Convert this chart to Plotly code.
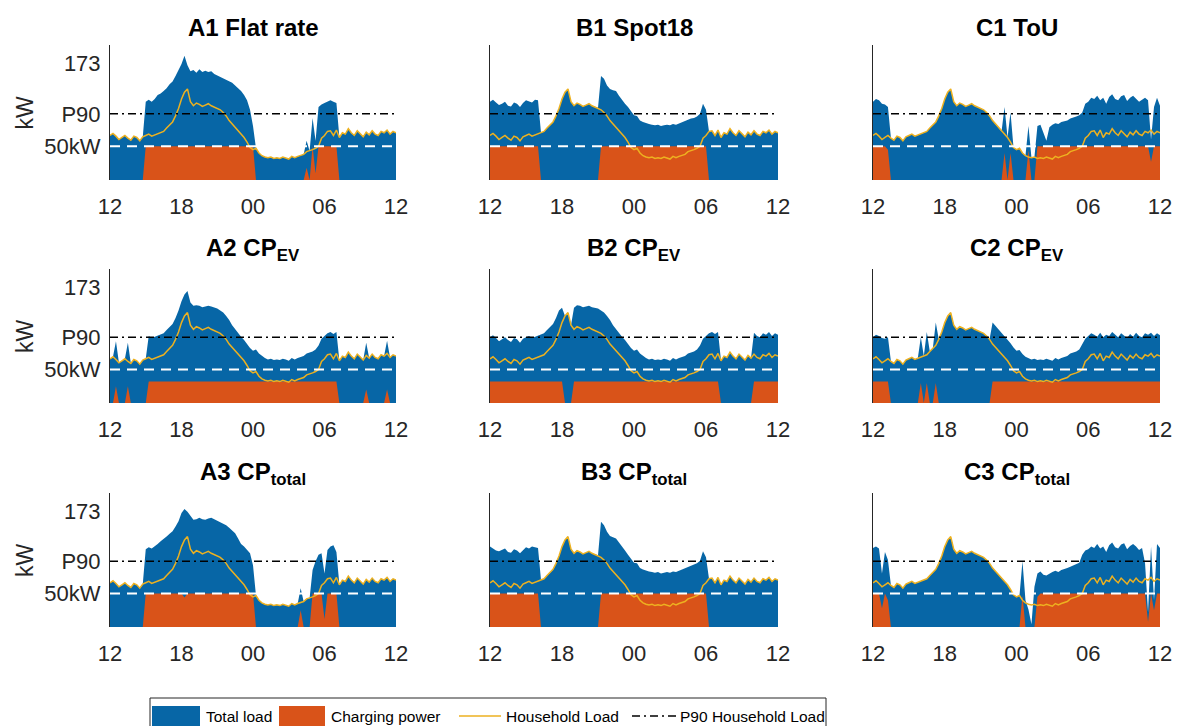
import plotly.graph_objects as go

# ---- time axis: 15-minute samples from 12:00 to 12:00 next day ----
STEP_H = 0.25
N_SAMPLES = 97
HOURS = [i * STEP_H for i in range(N_SAMPLES)]

TICK_HOURS = [0, 6, 12, 18, 24]
TICK_LABELS = ["12", "18", "00", "06", "12"]
Y_TICKS = [50, 98, 173]
Y_TICK_LABELS = ["50kW", "P90", "173"]
P90_KW = 98
LIMIT_KW = 50

# ---- household load (kW), shared by all scenarios ----
household = [
    66, 69, 65, 60, 63, 66, 62, 59, 65, 63, 58, 64,
    66, 68, 65, 67, 68, 70, 72, 77, 81, 86, 95, 106,
    120, 130, 135, 116, 110, 114, 112, 109, 111, 113, 110, 108,
    107, 104, 100, 95, 88, 83, 78, 72, 68, 63, 56, 48,
    45, 47, 40, 36, 34, 33, 34, 32, 33, 32, 34, 33,
    31, 35, 33, 35, 37, 38, 42, 43, 45, 47, 50, 62,
    66, 72, 73, 66, 74, 63, 70, 68, 76, 70, 66, 73,
    69, 64, 71, 67, 73, 68, 66, 72, 70, 74, 68, 72,
    70,
]

# ---- A: flat rate ----
charging_a1 = [
    0, 0, 0, 0, 0, 0, 0, 0, 0, 0, 0, 0,
    50, 50, 50, 50, 50, 50, 50, 50, 50, 50, 50, 50,
    50, 50, 50, 50, 50, 50, 50, 50, 50, 50, 50, 50,
    50, 50, 50, 50, 50, 50, 50, 50, 50, 50, 50, 50,
    50, 0, 0, 0, 0, 0, 0, 0, 0, 0, 0, 0,
    0, 0, 0, 0, 0, 0, 18, 0, 50, 10, 50, 50,
    50, 50, 50, 50, 50, 0, 0, 0, 0, 0, 0, 0,
    0, 0, 0, 0, 0, 0, 0, 0, 0, 0, 0, 0,
    0,
]
total_a1 = [
    66, 69, 65, 60, 63, 66, 62, 59, 65, 63, 58, 64,
    116, 119, 116, 120, 126, 128, 132, 136, 142, 146, 154, 162,
    172, 184, 170, 161, 163, 159, 164, 160, 162, 160, 161, 157,
    155, 152, 150, 149, 147, 144, 140, 136, 132, 126, 118, 104,
    80, 47, 40, 36, 34, 33, 34, 32, 33, 32, 34, 33,
    31, 35, 33, 35, 37, 38, 58, 43, 92, 58, 108, 112,
    114, 116, 118, 116, 114, 63, 70, 68, 76, 70, 66, 73,
    69, 64, 71, 67, 73, 68, 66, 72, 70, 74, 68, 72,
    70,
]
charging_a2 = [
    0, 0, 25, 0, 0, 0, 25, 0, 0, 0, 0, 0,
    0, 32, 32, 32, 32, 32, 32, 32, 32, 32, 32, 32,
    32, 32, 32, 32, 32, 32, 32, 32, 32, 32, 32, 32,
    32, 32, 32, 32, 32, 32, 32, 32, 32, 32, 32, 32,
    32, 32, 32, 32, 32, 32, 32, 32, 32, 32, 32, 32,
    32, 32, 32, 32, 32, 32, 32, 32, 32, 32, 32, 32,
    32, 32, 32, 32, 32, 0, 0, 0, 0, 0, 0, 0,
    0, 0, 20, 0, 0, 0, 0, 0, 0, 20, 0, 0,
    0,
]
total_a2 = [
    66, 69, 92, 60, 63, 66, 90, 59, 65, 63, 58, 64,
    66, 100, 97, 99, 100, 102, 104, 109, 113, 118, 127, 138,
    152, 162, 167, 150, 145, 146, 145, 143, 144, 145, 144, 143,
    141, 138, 135, 130, 124, 116, 110, 104, 99, 94, 88, 82,
    78, 80, 74, 70, 67, 65, 66, 64, 65, 64, 66, 65,
    63, 67, 65, 67, 69, 70, 74, 75, 77, 80, 86, 96,
    100, 104, 106, 103, 106, 63, 70, 68, 76, 70, 66, 73,
    69, 64, 90, 67, 73, 68, 66, 72, 70, 93, 68, 72,
    70,
]
charging_a3 = [
    0, 0, 0, 0, 0, 0, 0, 0, 0, 0, 0, 0,
    50, 50, 50, 50, 50, 50, 50, 50, 50, 50, 50, 50,
    50, 44, 50, 50, 50, 50, 50, 50, 50, 50, 50, 50,
    50, 50, 50, 50, 50, 50, 50, 50, 50, 50, 50, 50,
    50, 0, 0, 0, 0, 0, 0, 0, 0, 0, 0, 0,
    0, 0, 0, 0, 25, 0, 0, 0, 50, 50, 50, 50,
    12, 50, 50, 50, 50, 0, 0, 0, 0, 0, 0, 0,
    0, 0, 0, 0, 0, 0, 0, 0, 0, 0, 0, 0,
    0,
]
total_a3 = [
    66, 69, 65, 60, 63, 66, 62, 59, 65, 63, 58, 64,
    116, 119, 117, 120, 124, 128, 131, 135, 139, 143, 150, 158,
    170, 176, 172, 166, 160, 161, 163, 161, 160, 162, 163, 161,
    159, 157, 155, 152, 148, 144, 140, 132, 124, 120, 115, 110,
    92, 47, 40, 36, 34, 33, 34, 32, 33, 32, 34, 33,
    31, 35, 33, 35, 58, 38, 42, 43, 85, 98, 108, 110,
    80, 115, 120, 122, 112, 63, 70, 68, 76, 70, 66, 73,
    69, 64, 71, 67, 73, 68, 66, 72, 70, 74, 68, 72,
    70,
]

# ---- B: Spot18 ----
charging_b1 = [
    50, 50, 50, 50, 50, 50, 50, 50, 50, 50, 50, 50,
    50, 50, 50, 50, 50, 0, 0, 0, 0, 0, 0, 0,
    0, 0, 0, 0, 0, 0, 0, 0, 0, 0, 0, 0,
    0, 50, 50, 50, 50, 50, 50, 50, 50, 50, 50, 50,
    50, 50, 50, 50, 50, 50, 50, 50, 50, 50, 50, 50,
    50, 50, 50, 50, 50, 50, 50, 50, 50, 50, 50, 50,
    50, 0, 0, 0, 0, 0, 0, 0, 0, 0, 0, 0,
    0, 0, 0, 0, 0, 0, 0, 0, 0, 0, 0, 0,
    0,
]
total_b1 = [
    116, 119, 115, 111, 113, 116, 110, 109, 115, 113, 108, 114,
    118, 116, 115, 119, 118, 70, 72, 77, 81, 86, 95, 106,
    120, 130, 135, 116, 110, 114, 112, 109, 111, 113, 110, 108,
    107, 154, 150, 140, 135, 133, 132, 125, 118, 113, 108, 101,
    96, 95, 88, 86, 84, 83, 82, 81, 82, 80, 81, 82,
    81, 83, 82, 84, 86, 87, 89, 91, 92, 94, 98, 113,
    104, 72, 73, 66, 74, 63, 70, 68, 76, 70, 66, 73,
    69, 64, 71, 67, 73, 68, 66, 72, 70, 74, 68, 72,
    70,
]
charging_b2 = [
    32, 32, 32, 32, 32, 32, 32, 32, 32, 32, 32, 32,
    32, 32, 32, 32, 32, 32, 32, 32, 32, 32, 32, 32,
    32, 0, 0, 0, 32, 32, 32, 32, 32, 32, 32, 32,
    32, 32, 32, 32, 32, 32, 32, 32, 32, 32, 32, 32,
    32, 32, 32, 32, 32, 32, 32, 32, 32, 32, 32, 32,
    32, 32, 32, 32, 32, 32, 32, 32, 32, 32, 32, 32,
    32, 32, 32, 32, 32, 0, 0, 0, 0, 0, 0, 0,
    0, 0, 0, 0, 32, 32, 32, 32, 32, 32, 32, 32,
    32,
]
total_b2 = [
    98, 101, 97, 92, 95, 98, 94, 91, 97, 95, 90, 96,
    98, 100, 97, 99, 100, 102, 104, 109, 113, 118, 127, 138,
    142, 130, 135, 116, 142, 146, 145, 143, 144, 145, 143, 142,
    141, 138, 135, 130, 124, 116, 110, 104, 99, 94, 88, 82,
    78, 80, 74, 70, 67, 65, 66, 64, 65, 64, 66, 65,
    63, 67, 65, 67, 69, 70, 74, 75, 77, 80, 86, 96,
    100, 104, 106, 103, 106, 63, 70, 68, 76, 70, 66, 73,
    69, 64, 71, 67, 105, 100, 98, 104, 102, 106, 100, 104,
    102,
]
charging_b3 = [
    50, 50, 50, 50, 50, 50, 50, 50, 50, 50, 50, 50,
    50, 50, 50, 50, 50, 0, 0, 0, 0, 0, 0, 0,
    0, 0, 0, 0, 0, 0, 0, 0, 0, 0, 0, 0,
    0, 50, 50, 50, 50, 50, 50, 50, 50, 50, 50, 50,
    50, 50, 50, 50, 50, 50, 50, 50, 50, 50, 50, 50,
    50, 50, 50, 50, 50, 50, 50, 50, 50, 50, 50, 50,
    50, 0, 0, 0, 0, 0, 0, 0, 0, 0, 0, 0,
    0, 0, 0, 0, 0, 0, 0, 0, 0, 0, 0, 0,
    0,
]
total_b3 = [
    120, 117, 114, 113, 115, 117, 112, 111, 116, 114, 110, 115,
    119, 117, 120, 119, 118, 70, 72, 77, 81, 86, 95, 106,
    120, 130, 135, 116, 110, 114, 112, 109, 111, 113, 110, 108,
    107, 157, 152, 142, 136, 134, 132, 126, 119, 114, 108, 101,
    96, 95, 88, 86, 84, 83, 82, 81, 82, 80, 81, 82,
    81, 83, 82, 84, 86, 87, 89, 91, 93, 95, 99, 113,
    104, 72, 73, 66, 74, 63, 70, 68, 76, 70, 66, 73,
    69, 64, 71, 67, 73, 68, 66, 72, 70, 74, 68, 72,
    70,
]

# ---- C: time of use ----
charging_c1 = [
    50, 50, 50, 50, 50, 45, 0, 0, 0, 0, 0, 0,
    0, 0, 0, 0, 0, 0, 0, 0, 0, 0, 0, 0,
    0, 0, 0, 0, 0, 0, 0, 0, 0, 0, 0, 0,
    0, 0, 0, 0, 0, 0, 0, 0, 40, 0, 40, 0,
    0, 0, 0, 0, 44, 0, 0, 50, 50, 50, 50, 50,
    50, 50, 50, 50, 50, 50, 50, 50, 50, 50, 50, 50,
    50, 50, 50, 50, 50, 50, 50, 50, 50, 50, 50, 50,
    50, 50, 50, 50, 50, 50, 50, 50, 50, 27, 50, 50,
    50,
]
total_c1 = [
    116, 120, 118, 113, 112, 108, 62, 59, 65, 63, 58, 64,
    66, 68, 65, 67, 68, 70, 72, 77, 81, 86, 95, 106,
    120, 130, 135, 116, 110, 114, 112, 109, 111, 113, 110, 108,
    107, 104, 100, 95, 88, 83, 78, 72, 108, 63, 100, 48,
    45, 47, 40, 36, 80, 33, 34, 80, 82, 70, 58, 78,
    82, 84, 83, 86, 87, 88, 91, 92, 94, 96, 100, 113,
    116, 122, 120, 125, 118, 122, 113, 123, 127, 120, 118, 124,
    126, 117, 122, 125, 121, 116, 119, 122, 118, 60, 108, 122,
    110,
]
charging_c2 = [
    32, 32, 32, 32, 32, 32, 0, 0, 0, 0, 0, 0,
    0, 0, 0, 0, 30, 0, 30, 0, 0, 30, 0, 0,
    0, 0, 0, 0, 0, 0, 0, 0, 0, 0, 0, 0,
    0, 0, 0, 0, 32, 32, 32, 32, 32, 32, 32, 32,
    32, 32, 32, 32, 32, 32, 32, 32, 32, 32, 32, 32,
    32, 32, 32, 32, 32, 32, 32, 32, 32, 32, 32, 32,
    32, 32, 32, 32, 32, 32, 32, 32, 32, 32, 32, 32,
    32, 32, 32, 32, 32, 32, 32, 32, 32, 32, 32, 32,
    32,
]
total_c2 = [
    98, 102, 100, 97, 96, 98, 62, 59, 65, 63, 58, 64,
    66, 68, 65, 67, 98, 70, 106, 77, 81, 120, 95, 106,
    120, 130, 135, 116, 110, 114, 112, 109, 111, 113, 110, 108,
    107, 104, 100, 95, 120, 115, 110, 104, 100, 95, 89, 83,
    78, 79, 73, 69, 67, 65, 66, 64, 65, 64, 66, 65,
    63, 67, 65, 67, 69, 70, 74, 75, 77, 80, 88, 96,
    100, 104, 102, 99, 105, 98, 102, 100, 106, 102, 98, 104,
    101, 97, 103, 99, 105, 100, 98, 104, 102, 105, 100, 104,
    101,
]
charging_c3 = [
    50, 50, 50, 28, 50, 40, 0, 0, 0, 0, 0, 0,
    0, 0, 0, 0, 0, 0, 0, 0, 0, 0, 0, 0,
    0, 0, 0, 0, 0, 0, 0, 0, 0, 0, 0, 0,
    0, 0, 0, 0, 0, 0, 0, 0, 0, 0, 0, 0,
    0, 0, 47, 0, 0, 0, 0, 45, 50, 50, 50, 50,
    50, 50, 50, 50, 50, 50, 50, 50, 50, 50, 50, 50,
    50, 50, 50, 50, 50, 50, 50, 50, 50, 50, 50, 50,
    50, 50, 50, 50, 50, 50, 50, 50, 8, 50, 25, 50,
    50,
]
total_c3 = [
    118, 120, 117, 80, 112, 100, 62, 59, 65, 63, 58, 64,
    66, 68, 65, 67, 68, 70, 72, 77, 81, 86, 95, 106,
    120, 130, 135, 116, 110, 114, 112, 109, 111, 113, 110, 108,
    107, 104, 100, 95, 88, 83, 78, 72, 68, 63, 56, 48,
    45, 47, 98, 40, 26, 4, 60, 80, 83, 78, 77, 80,
    82, 84, 82, 85, 86, 88, 90, 92, 94, 96, 108, 114,
    116, 120, 118, 124, 117, 120, 112, 122, 126, 119, 117, 123,
    125, 116, 121, 124, 120, 115, 118, 95, 22, 120, 40, 124,
    118,
]

# panels in reading order (row by row)
PANELS = [
    ("A1 Flat rate", total_a1, charging_a1),
    ("B1 Spot18", total_b1, charging_b1),
    ("C1 ToU", total_c1, charging_c1),
    ("A2 CP<sub>EV</sub>", total_a2, charging_a2),
    ("B2 CP<sub>EV</sub>", total_b2, charging_b2),
    ("C2 CP<sub>EV</sub>", total_c2, charging_c2),
    ("A3 CP<sub>total</sub>", total_a3, charging_a3),
    ("B3 CP<sub>total</sub>", total_b3, charging_b3),
    ("C3 CP<sub>total</sub>", total_c3, charging_c3),
]

LEGEND_LABELS = ["Total load", "Charging power", "Household Load", "P90 Household Load"]

# ---- styling ----
W, H = 1185, 726
BLUE = "#0766A6"
ORANGE = "#D95319"
YELLOW = "#EDB120"
AXIS_GRAY = "#262626"
FONT = "Liberation Sans, Arial, sans-serif"
P90_DASH = "8px,4px,2px,4px"

COL_PX = [(110, 396), (490, 778), (873, 1160)]
ROW_PX = [(45, 180), (269, 403), (493, 627)]

fig = go.Figure()
layout = dict(
    width=W, height=H,
    margin=dict(l=0, r=0, t=0, b=0, pad=0, autoexpand=False),
    paper_bgcolor="white", plot_bgcolor="white",
    font=dict(family=FONT, color=AXIS_GRAY),
    showlegend=False,
    annotations=[],
    shapes=[],
)

for k, (title, total, charging) in enumerate(PANELS):
    row, col = divmod(k, 3)
    idx = k + 1
    xa = "x" if idx == 1 else f"x{idx}"
    ya = "y" if idx == 1 else f"y{idx}"

    fig.add_trace(go.Scatter(
        x=HOURS, y=total, xaxis=xa, yaxis=ya, mode="lines",
        fill="tozeroy", fillcolor=BLUE, line=dict(width=0, color=BLUE),
        name=LEGEND_LABELS[0], hoverinfo="skip",
    ))
    fig.add_trace(go.Scatter(
        x=HOURS, y=charging, xaxis=xa, yaxis=ya, mode="lines",
        fill="tozeroy", fillcolor=ORANGE, line=dict(width=0, color=ORANGE),
        name=LEGEND_LABELS[1], hoverinfo="skip",
    ))
    fig.add_trace(go.Scatter(
        x=HOURS, y=household, xaxis=xa, yaxis=ya, mode="lines",
        line=dict(width=1.5, color=YELLOW),
        name=LEGEND_LABELS[2], hoverinfo="skip",
    ))
    fig.add_trace(go.Scatter(
        x=[TICK_HOURS[0], TICK_HOURS[-1]], y=[P90_KW, P90_KW],
        xaxis=xa, yaxis=ya, mode="lines",
        line=dict(width=1.5, color="black", dash=P90_DASH),
        name=LEGEND_LABELS[3], hoverinfo="skip",
    ))
    fig.add_trace(go.Scatter(
        x=[TICK_HOURS[0], TICK_HOURS[-1]], y=[LIMIT_KW, LIMIT_KW],
        xaxis=xa, yaxis=ya, mode="lines",
        line=dict(width=2, color="white", dash="10px,7px"),
        hoverinfo="skip",
    ))

    x0, x1 = COL_PX[col]
    top, bottom = ROW_PX[row]
    xdom = [x0 / W, x1 / W]
    ydom = [1 - bottom / H, 1 - top / H]

    layout["xaxis" if idx == 1 else f"xaxis{idx}"] = dict(
        domain=xdom, anchor=ya, range=[TICK_HOURS[0], TICK_HOURS[-1]],
        tickmode="array", tickvals=TICK_HOURS, ticktext=TICK_LABELS,
        ticks="outside", ticklen=7, tickcolor="rgba(0,0,0,0)",
        showline=False, showgrid=False, zeroline=False, automargin=False,
        tickfont=dict(size=22, color=AXIS_GRAY, family=FONT),
    )
    yaxis = dict(
        domain=ydom, anchor=xa, range=[0, 200],
        showline=True, linecolor=AXIS_GRAY, linewidth=1,
        showgrid=False, zeroline=False, automargin=False,
    )
    if col == 0:
        yaxis.update(
            tickmode="array", tickvals=Y_TICKS, ticktext=Y_TICK_LABELS,
            ticks="outside", ticklen=4, tickcolor="rgba(0,0,0,0)",
            tickfont=dict(size=22, color=AXIS_GRAY, family=FONT),
        )
    else:
        yaxis.update(showticklabels=False, ticks="")
    layout["yaxis" if idx == 1 else f"yaxis{idx}"] = yaxis

    layout["annotations"].append(dict(
        text=f"<b>{title}</b>", xref="paper", yref="paper",
        x=(xdom[0] + xdom[1]) / 2, y=ydom[1], xanchor="center", yanchor="bottom",
        yshift=2, showarrow=False, font=dict(size=24, color="black", family=FONT),
    ))
    if col == 0:
        layout["annotations"].append(dict(
            text="kW", xref="paper", yref="paper",
            x=25 / W, y=(ydom[0] + ydom[1]) / 2, xanchor="center", yanchor="middle",
            textangle=-90, showarrow=False,
            font=dict(size=23, color=AXIS_GRAY, family=FONT),
        ))

# ---- legend box along the bottom edge ----
def px_x(v):
    return v / W


def px_y(v):
    return 1 - v / H


LEG_TOP, LEG_BOTTOM, LEG_MID = 698, 734, 716
layout["shapes"].append(dict(
    type="rect", xref="paper", yref="paper",
    x0=px_x(150), x1=px_x(826), y0=px_y(LEG_BOTTOM), y1=px_y(LEG_TOP),
    line=dict(color=AXIS_GRAY, width=1), fillcolor="white", layer="above",
))
legend_items = [
    # (kind, colour, x0, x1, text x)
    ("patch", BLUE, 152, 200, 204),
    ("patch", ORANGE, 279, 325, 329),
    ("line", YELLOW, 459, 501, 504),
    ("p90", "black", 632, 676, 678),
]
for (kind, colour, sx0, sx1, tx), label in zip(legend_items, LEGEND_LABELS):
    if kind == "patch":
        layout["shapes"].append(dict(
            type="rect", xref="paper", yref="paper",
            x0=px_x(sx0), x1=px_x(sx1), y0=px_y(LEG_BOTTOM - 2), y1=px_y(706),
            line=dict(width=0), fillcolor=colour, layer="above",
        ))
    else:
        layout["shapes"].append(dict(
            type="line", xref="paper", yref="paper",
            x0=px_x(sx0), x1=px_x(sx1), y0=px_y(LEG_MID), y1=px_y(LEG_MID),
            line=dict(color=colour, width=1.5,
                      dash=P90_DASH if kind == "p90" else "solid"),
            layer="above",
        ))
    layout["annotations"].append(dict(
        text=label, xref="paper", yref="paper",
        x=px_x(tx), y=px_y(LEG_MID), xanchor="left", yanchor="middle",
        showarrow=False, font=dict(size=15.5, color="black", family=FONT),
    ))

fig.update_layout(**layout)
fig.write_html("out.html")
